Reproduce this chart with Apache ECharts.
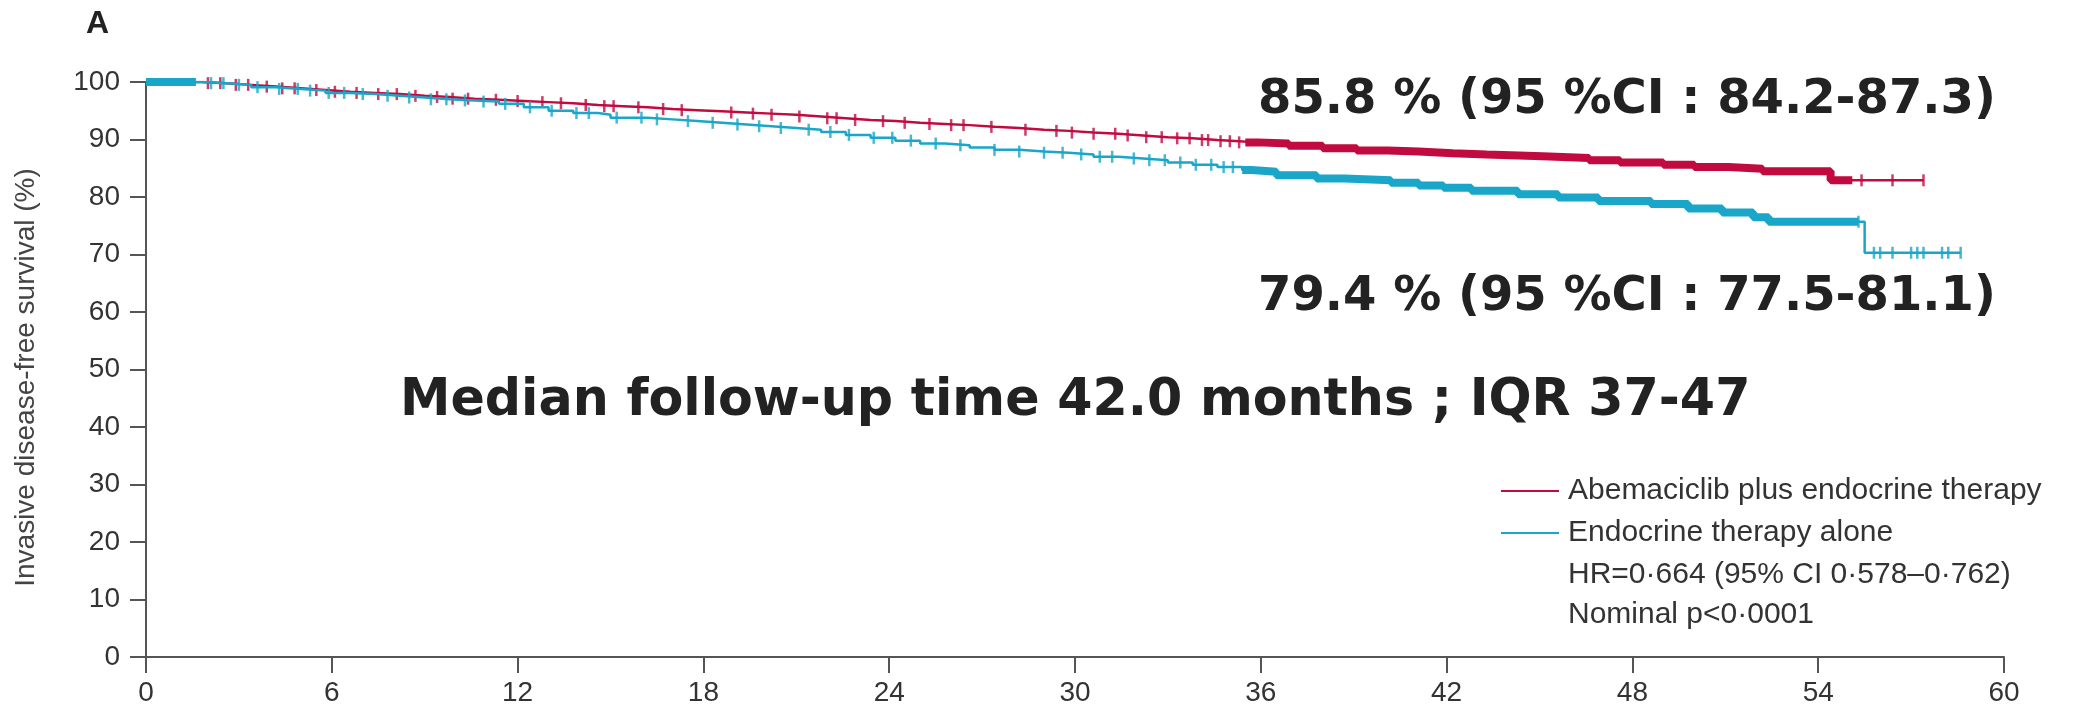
<!DOCTYPE html>
<html>
<head>
<meta charset="utf-8">
<script src="https://cdn.jsdelivr.net/npm/echarts@6/dist/echarts.min.js"></script>
<style>
  html, body { margin: 0; padding: 0; background: #fff; }
  #main { width: 2075px; height: 711px; }
</style>
</head>
<body>
<div id="main"></div>
<script>
// Kaplan-Meier steps (months, % free of invasive disease)
var abemaTimes = [0, 1.8, 2.6, 3.4, 4.2, 5.0, 5.8, 6.6, 7.4, 8.2, 9.0, 9.8, 10.6, 11.4, 12.2, 13.0, 13.8, 14.6, 15.4, 16.2, 17.0, 17.8, 18.6, 19.4, 20.2, 21.0, 21.8, 22.6, 23.4, 24.2, 25.0, 25.8, 26.6, 27.4, 28.2, 29.0, 29.8, 30.6, 31.4, 32.2, 33.0, 33.8, 34.6, 35.3, 35.9, 36.9, 38.0, 39.1, 40.1, 41.1, 42.2, 43.3, 45.1, 46.6, 47.6, 49.0, 50.0, 51.1, 52.2, 54.4, 57.4];
var abemaSurv = [100, 99.8, 99.5, 99.2, 98.9, 98.6, 98.3, 98.1, 97.9, 97.6, 97.4, 97.1, 96.9, 96.7, 96.5, 96.3, 96.0, 95.8, 95.6, 95.3, 95.1, 94.9, 94.7, 94.5, 94.3, 94.0, 93.7, 93.4, 93.2, 92.9, 92.7, 92.5, 92.2, 92.0, 91.7, 91.5, 91.2, 91.0, 90.7, 90.4, 90.2, 89.9, 89.7, 89.5, 89.3, 88.9, 88.5, 88.1, 87.9, 87.6, 87.4, 87.1, 86.8, 86.4, 86.0, 85.6, 85.2, 84.9, 84.5, 82.9, 82.9];

var etTimes = [0, 1.8, 2.6, 3.4, 4.2, 5.0, 5.8, 6.6, 7.4, 8.2, 9.0, 9.8, 10.6, 11.4, 12.2, 13.0, 13.8, 14.6, 15.0, 16.2, 17.0, 17.8, 18.6, 19.4, 20.2, 21.0, 21.8, 22.6, 23.4, 24.2, 25.0, 25.8, 26.6, 27.4, 28.2, 29.0, 29.8, 30.6, 31.4, 32.2, 33.0, 33.8, 34.6, 35.4, 35.7, 36.5, 37.8, 38.7, 40.2, 41.1, 41.9, 42.8, 44.3, 45.6, 46.9, 48.6, 49.8, 50.9, 51.9, 52.4, 55.5, 58.6];
var etSurv = [100, 99.8, 99.5, 99.1, 98.8, 98.5, 98.1, 97.9, 97.6, 97.3, 97.0, 96.8, 96.6, 96.2, 95.6, 95.0, 94.6, 94.3, 93.8, 93.5, 93.2, 92.9, 92.6, 92.3, 92.0, 91.7, 91.3, 90.8, 90.3, 89.8, 89.3, 89.0, 88.6, 88.2, 87.9, 87.7, 87.4, 87.0, 86.7, 86.4, 86.0, 85.6, 85.2, 84.7, 84.4, 83.8, 83.2, 82.9, 82.5, 82.0, 81.6, 81.1, 80.5, 79.9, 79.3, 78.8, 78.0, 77.3, 76.5, 75.7, 70.3, 70.3];

// censoring marks (months)
var abemaCensor = [2.0, 2.4, 2.9, 3.3, 3.9, 4.4, 4.8, 5.5, 6.1, 6.8, 7.5, 8.1, 8.7, 9.4, 9.9, 10.4, 11.3, 12.0, 12.8, 13.4, 14.2, 14.8, 15.1, 15.9, 16.7, 17.3, 18.9, 19.6, 20.2, 21.1, 22.0, 22.3, 22.9, 23.8, 24.5, 25.3, 26.0, 26.4, 27.3, 28.4, 29.4, 29.9, 30.6, 31.3, 31.7, 32.3, 32.8, 33.3, 33.7, 34.1, 34.3, 34.7, 35.0, 35.3, 55.4, 56.4, 57.4];
var etCensor = [2.1, 2.5, 3.0, 3.6, 4.3, 4.9, 5.3, 5.9, 6.4, 7.0, 7.8, 8.5, 9.2, 9.7, 10.3, 10.9, 11.6, 12.4, 13.1, 13.9, 14.3, 15.2, 16.0, 16.5, 17.5, 18.3, 19.1, 19.8, 20.5, 21.4, 22.1, 22.7, 23.5, 24.1, 24.7, 25.5, 26.3, 27.4, 28.2, 29.0, 29.6, 30.2, 30.8, 31.2, 31.9, 32.4, 32.9, 33.4, 33.9, 34.4, 34.8, 35.1, 55.3, 55.8, 56.0, 56.4, 57.0, 57.2, 57.4, 58.0, 58.2, 58.6];
// stretches where censor marks are so dense they merge into a solid band
var abemaDense = [[0, 1.6], [35.5, 55.1]];
var etDense = [[0, 1.6], [35.4, 55.3]];

var xMin = 0, xMax = 60, xStep = 6;
var yMin = 0, yMax = 100, yStep = 10;

var RED = '#c10a40';
var CYAN = '#19a6c9';
var tickFont = '"Liberation Sans", Arial, sans-serif';
var bigFont = '"DejaVu Sans", "Noto Sans", sans-serif';

function survAt(times, surv, t) {
  var v = surv[0];
  for (var i = 0; i < times.length; i++) {
    if (times[i] <= t) v = surv[i];
  }
  return v;
}

function stepData(times, surv) {
  return times.map(function (t, i) { return [t, surv[i]]; });
}

function censorData(list, times, surv) {
  return list.map(function (t) { return [t, survAt(times, surv, t)]; });
}

function bandData(win, times, surv) {
  var pts = [[win[0], survAt(times, surv, win[0])]];
  for (var i = 0; i < times.length; i++) {
    if (times[i] > win[0] && times[i] < win[1]) pts.push([times[i], surv[i]]);
  }
  pts.push([win[1], survAt(times, surv, win[1])]);
  return pts;
}

function bandSeries(wins, times, surv, color, z) {
  return wins.map(function (w) {
    return {
      type: 'line',
      step: 'end',
      data: bandData(w, times, surv),
      showSymbol: false,
      silent: true,
      lineStyle: { color: color, width: 8 },
      z: z
    };
  });
}

var chart = echarts.init(document.getElementById('main'), null, { renderer: 'canvas' });

var series = [
  {
    name: 'Abemaciclib plus endocrine therapy',
    type: 'line',
    step: 'end',
    data: stepData(abemaTimes, abemaSurv),
    showSymbol: false,
    lineStyle: { color: RED, width: 2.5 },
    itemStyle: { color: RED },
    z: 3
  },
  {
    name: 'Endocrine therapy alone',
    type: 'line',
    step: 'end',
    data: stepData(etTimes, etSurv),
    showSymbol: false,
    lineStyle: { color: CYAN, width: 2.5 },
    itemStyle: { color: CYAN },
    z: 4
  },
  {
    type: 'scatter',
    data: censorData(abemaCensor, abemaTimes, abemaSurv),
    symbol: 'rect',
    symbolSize: [2.5, 12],
    itemStyle: { color: RED },
    silent: true,
    z: 3
  },
  {
    type: 'scatter',
    data: censorData(etCensor, etTimes, etSurv),
    symbol: 'rect',
    symbolSize: [2.5, 12],
    itemStyle: { color: CYAN },
    silent: true,
    z: 4
  }
].concat(bandSeries(abemaDense, abemaTimes, abemaSurv, RED, 3))
 .concat(bandSeries(etDense, etTimes, etSurv, CYAN, 4));

var option = {
  backgroundColor: '#ffffff',
  animation: false,
  grid: { left: 146, right: 71, top: 82, bottom: 54 },
  xAxis: {
    type: 'value',
    min: xMin, max: xMax, interval: xStep,
    axisLine: { show: true, lineStyle: { color: '#555', width: 2 } },
    axisTick: { show: true, length: 16, lineStyle: { color: '#555', width: 2 } },
    axisLabel: { color: '#333', fontFamily: tickFont, fontSize: 28, margin: 22 },
    splitLine: { show: false }
  },
  yAxis: {
    type: 'value',
    min: yMin, max: yMax, interval: yStep,
    name: 'Invasive disease-free survival (%)',
    nameLocation: 'middle',
    nameGap: 106,
    nameTextStyle: { color: '#444', fontFamily: tickFont, fontSize: 28, padding: [0, 16, 0, 0] },
    axisLine: { show: true, lineStyle: { color: '#555', width: 2 } },
    axisTick: { show: true, length: 16, lineStyle: { color: '#555', width: 2 } },
    axisLabel: { color: '#333', fontFamily: tickFont, fontSize: 28, margin: 26 },
    splitLine: { show: false }
  },
  legend: {
    data: ['Abemaciclib plus endocrine therapy', 'Endocrine therapy alone'],
    orient: 'vertical',
    left: 1496,
    top: 471,
    icon: 'rect',
    itemWidth: 58,
    itemHeight: 2,
    itemGap: 12,
    textStyle: { color: '#333', fontFamily: tickFont, fontSize: 30, padding: [0, 0, 0, 4] }
  },
  graphic: [
    { type: 'text', left: 86, top: 8, style: { text: 'A', fill: '#222', font: 'bold 32px ' + tickFont } },
    { type: 'text', left: 1258, top: 77, style: { text: '85.8 % (95 %CI : 84.2-87.3)', fill: '#222', font: 'bold 48px ' + bigFont } },
    { type: 'text', left: 1258, top: 274, style: { text: '79.4 % (95 %CI : 77.5-81.1)', fill: '#222', font: 'bold 48px ' + bigFont } },
    { type: 'text', left: 400, top: 376, style: { text: 'Median follow-up time 42.0 months ; IQR 37-47', fill: '#222', font: 'bold 50.7px ' + bigFont } },
    { type: 'text', left: 1568, top: 560, style: { text: 'HR=0·664 (95% CI 0·578–0·762)', fill: '#333', font: '30px ' + tickFont } },
    { type: 'text', left: 1568, top: 600, style: { text: 'Nominal p<0·0001', fill: '#333', font: '30px ' + tickFont } }
  ],
  series: series
};

chart.setOption(option);
</script>
</body>
</html>
